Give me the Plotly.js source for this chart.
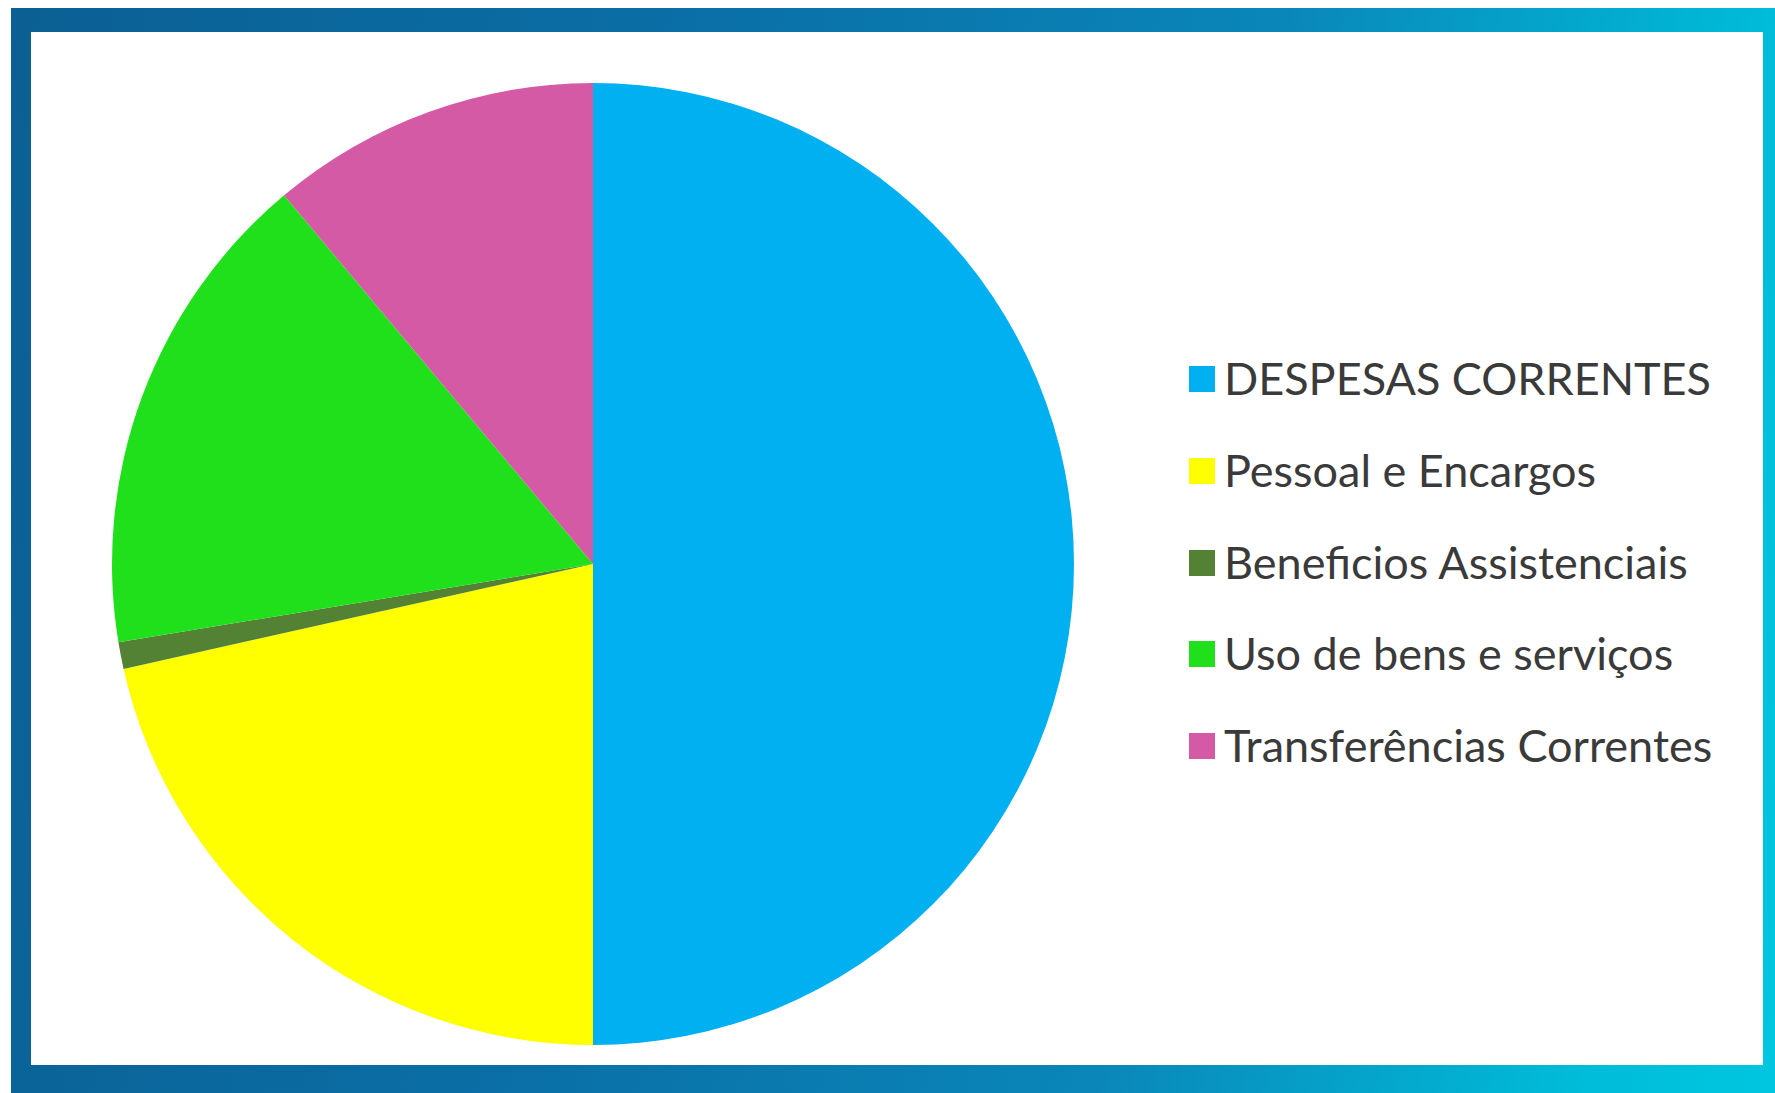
<!DOCTYPE html>
<html>
<head>
<meta charset="utf-8">
<script src="https://cdn.plot.ly/plotly-3.0.1.min.js"></script>
<style>
  html, body { margin: 0; padding: 0; background: #ffffff; width: 1775px; height: 1093px; overflow: hidden; }
  #frame { position: absolute; left: 11px; top: 8px; right: 0; bottom: 0;
    background: linear-gradient(100deg, #0b5f93 0%, #0a6fa6 35%, #0a86b8 65%, #00bcd8 90%, #00c6df 100%); }
  #panel { position: absolute; left: 31px; top: 32px; width: 1732px; height: 1033px; background: #ffffff; }
  #chart { position: absolute; left: 0; top: 0; width: 1775px; height: 1093px; }
</style>
</head>
<body>
<div id="frame"></div>
<div id="panel"></div>
<div id="chart"></div>
<script>
const labels = ["DESPESAS CORRENTES", "Pessoal e Encargos", "Beneficios Assistenciais", "Uso de bens e serviços", "Transferências Correntes"];
const values = [50.0, 21.5, 0.9, 16.5, 11.1];
const colors = ["#00B0F0", "#FFFF00", "#548235", "#1FE01A", "#D55AA5"];

const W = 1775, H = 1093;
const cx = 593, cy = 564, r = 481;

const trace = {
  type: "pie",
  labels: labels,
  values: values,
  sort: false,
  direction: "clockwise",
  rotation: 0,
  textinfo: "none",
  hoverinfo: "label+percent",
  marker: { colors: colors, line: { width: 0 } },
  showlegend: false,
  domain: { x: [(cx - r) / W, (cx + r) / W], y: [(H - cy - r) / H, (H - cy + r) / H] }
};

const rowY = [379, 471, 563, 654, 746];
const annotations = [];
const shapes = [];
labels.forEach((lab, i) => {
  const yc = rowY[i];
  shapes.push({ type: "rect", xref: "paper", yref: "paper",
    x0: 1189 / W, x1: 1215 / W, y0: 1 - (yc + 13) / H, y1: 1 - (yc - 13) / H,
    fillcolor: colors[i], line: { width: 0 } });
  annotations.push({ xref: "paper", yref: "paper", x: 1222 / W, y: 1 - (yc - 1) / H,
    xanchor: "left", yanchor: "middle", showarrow: false, text: lab,
    font: { family: "Lato, 'Open Sans', sans-serif", size: 45, color: "#3a3a3a" } });
});

const layout = {
  width: W, height: H,
  margin: { l: 0, r: 0, t: 0, b: 0 },
  paper_bgcolor: "rgba(0,0,0,0)",
  plot_bgcolor: "rgba(0,0,0,0)",
  showlegend: false,
  annotations: annotations,
  shapes: shapes
};

Plotly.newPlot("chart", [trace], layout, { displayModeBar: false, staticPlot: true });
</script>
</body>
</html>
